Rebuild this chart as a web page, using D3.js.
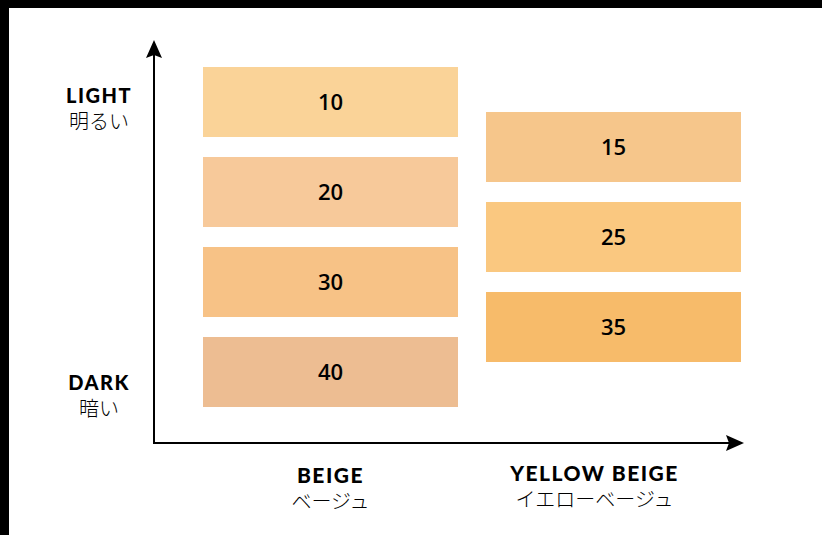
<!DOCTYPE html>
<html>
<head>
<meta charset="utf-8">
<script src="https://cdn.jsdelivr.net/npm/d3@7"></script>
<style>
  html, body { margin: 0; padding: 0; background: #fff; }
  svg { display: block; }
</style>
</head>
<body>
<div id="chart"></div>
<script>
// data
const categories = ["BEIGE", "YELLOW BEIGE"]
const categoriesJa = ["ベージュ", "イエローベージュ"]
const shadeCategory = ["BEIGE", "BEIGE", "BEIGE", "BEIGE", "YELLOW BEIGE", "YELLOW BEIGE", "YELLOW BEIGE"]
const shadeValues = [10, 20, 30, 40, 15, 25, 35]
const shadeColors = ["#fad398", "#f7c99a", "#f7c286", "#edbd92", "#f6c68b", "#fac880", "#f7bb6a"]
const yLabels = ["LIGHT", "DARK"]
const yLabelsJa = ["明るい", "暗い"]

const width = 822, height = 535
const svg = d3.select("#chart").append("svg")
    .attr("width", width)
    .attr("height", height)

// black frame on top / left like the source image
svg.append("rect").attr("x", 0).attr("y", 0).attr("width", width).attr("height", 8).attr("fill", "#000")
svg.append("rect").attr("x", 0).attr("y", 0).attr("width", 9).attr("height", height).attr("fill", "#000")

const x = d3.scaleBand()
    .domain(categories)
    .range([203, 741])
    .paddingInner(28 / 283)
    .paddingOuter(0)

const y = d3.scaleLinear()
    .domain([10, 40])
    .range([101.5, 372])

const barH = 70
const axisX = 154, axisY = 443

// bars
const shades = shadeValues.map((v, i) => ({ value: v, cat: shadeCategory[i], color: shadeColors[i] }))

svg.selectAll("rect.bar").data(shades).enter().append("rect")
    .attr("class", "bar")
    .attr("x", d => x(d.cat))
    .attr("y", d => Math.round(y(d.value) - barH / 2))
    .attr("width", x.bandwidth())
    .attr("height", barH)
    .attr("fill", d => d.color)

svg.selectAll("text.val").data(shades).enter().append("text")
    .attr("class", "val")
    .attr("x", d => x(d.cat) + x.bandwidth() / 2)
    .attr("y", d => y(d.value) + 8)
    .attr("text-anchor", "middle")
    .style("font-family", "'Open Sans', 'Noto Sans', sans-serif")
    .style("font-weight", 600)
    .style("font-size", "22px")
    .attr("fill", "#000")
    .text(d => d.value)

// axes with arrow heads
svg.append("line")
    .attr("x1", axisX).attr("y1", axisY)
    .attr("x2", axisX).attr("y2", 52)
    .attr("stroke", "#000").attr("stroke-width", 2)
svg.append("line")
    .attr("x1", axisX - 1).attr("y1", axisY)
    .attr("x2", 732).attr("y2", axisY)
    .attr("stroke", "#000").attr("stroke-width", 2)

svg.append("path")
    .attr("d", `M${axisX},40 L${axisX + 8},58 L${axisX},55 L${axisX - 8},58 Z`)
    .attr("fill", "#000")
svg.append("path")
    .attr("d", `M744,${axisY} L726,${axisY + 8} L729,${axisY} L726,${axisY - 8} Z`)
    .attr("fill", "#000")

const boldFont = "Lato, 'DejaVu Sans', sans-serif"
const jaFont = "'Noto Sans CJK JP', sans-serif"

// y labels (LIGHT / DARK)
const yl = svg.selectAll("g.ylab").data(yLabels).enter().append("g")
    .attr("class", "ylab")
    .attr("transform", (d, i) => `translate(99,${i === 0 ? 103 : 390})`)
yl.append("text")
    .attr("text-anchor", "middle")
    .style("font-family", boldFont)
    .style("font-weight", 900)
    .style("font-size", "20px")
    .style("letter-spacing", "1.5px")
    .text(d => d)
yl.append("text")
    .attr("y", 26)
    .attr("text-anchor", "middle")
    .style("font-family", jaFont)
    .style("font-weight", 300)
    .style("font-size", "20px")
    .attr("fill", "#000")
    .text((d, i) => yLabelsJa[i])

// category labels
const xl = svg.selectAll("g.xlab").data(categories).enter().append("g")
    .attr("class", "xlab")
    .attr("transform", (d, i) => `translate(${x(d) + x.bandwidth() / 2 + (i === 1 ? -19 : 0)},${i === 0 ? 483 : 481})`)
xl.append("text")
    .attr("text-anchor", "middle")
    .style("font-family", boldFont)
    .style("font-weight", 900)
    .style("font-size", "21px")
    .style("letter-spacing", "1.5px")
    .text(d => d)
xl.append("text")
    .attr("y", 26)
    .attr("text-anchor", "middle")
    .style("font-family", jaFont)
    .style("font-weight", 300)
    .style("font-size", "20px")
    .attr("fill", "#000")
    .text((d, i) => categoriesJa[i])
</script>
</body>
</html>
